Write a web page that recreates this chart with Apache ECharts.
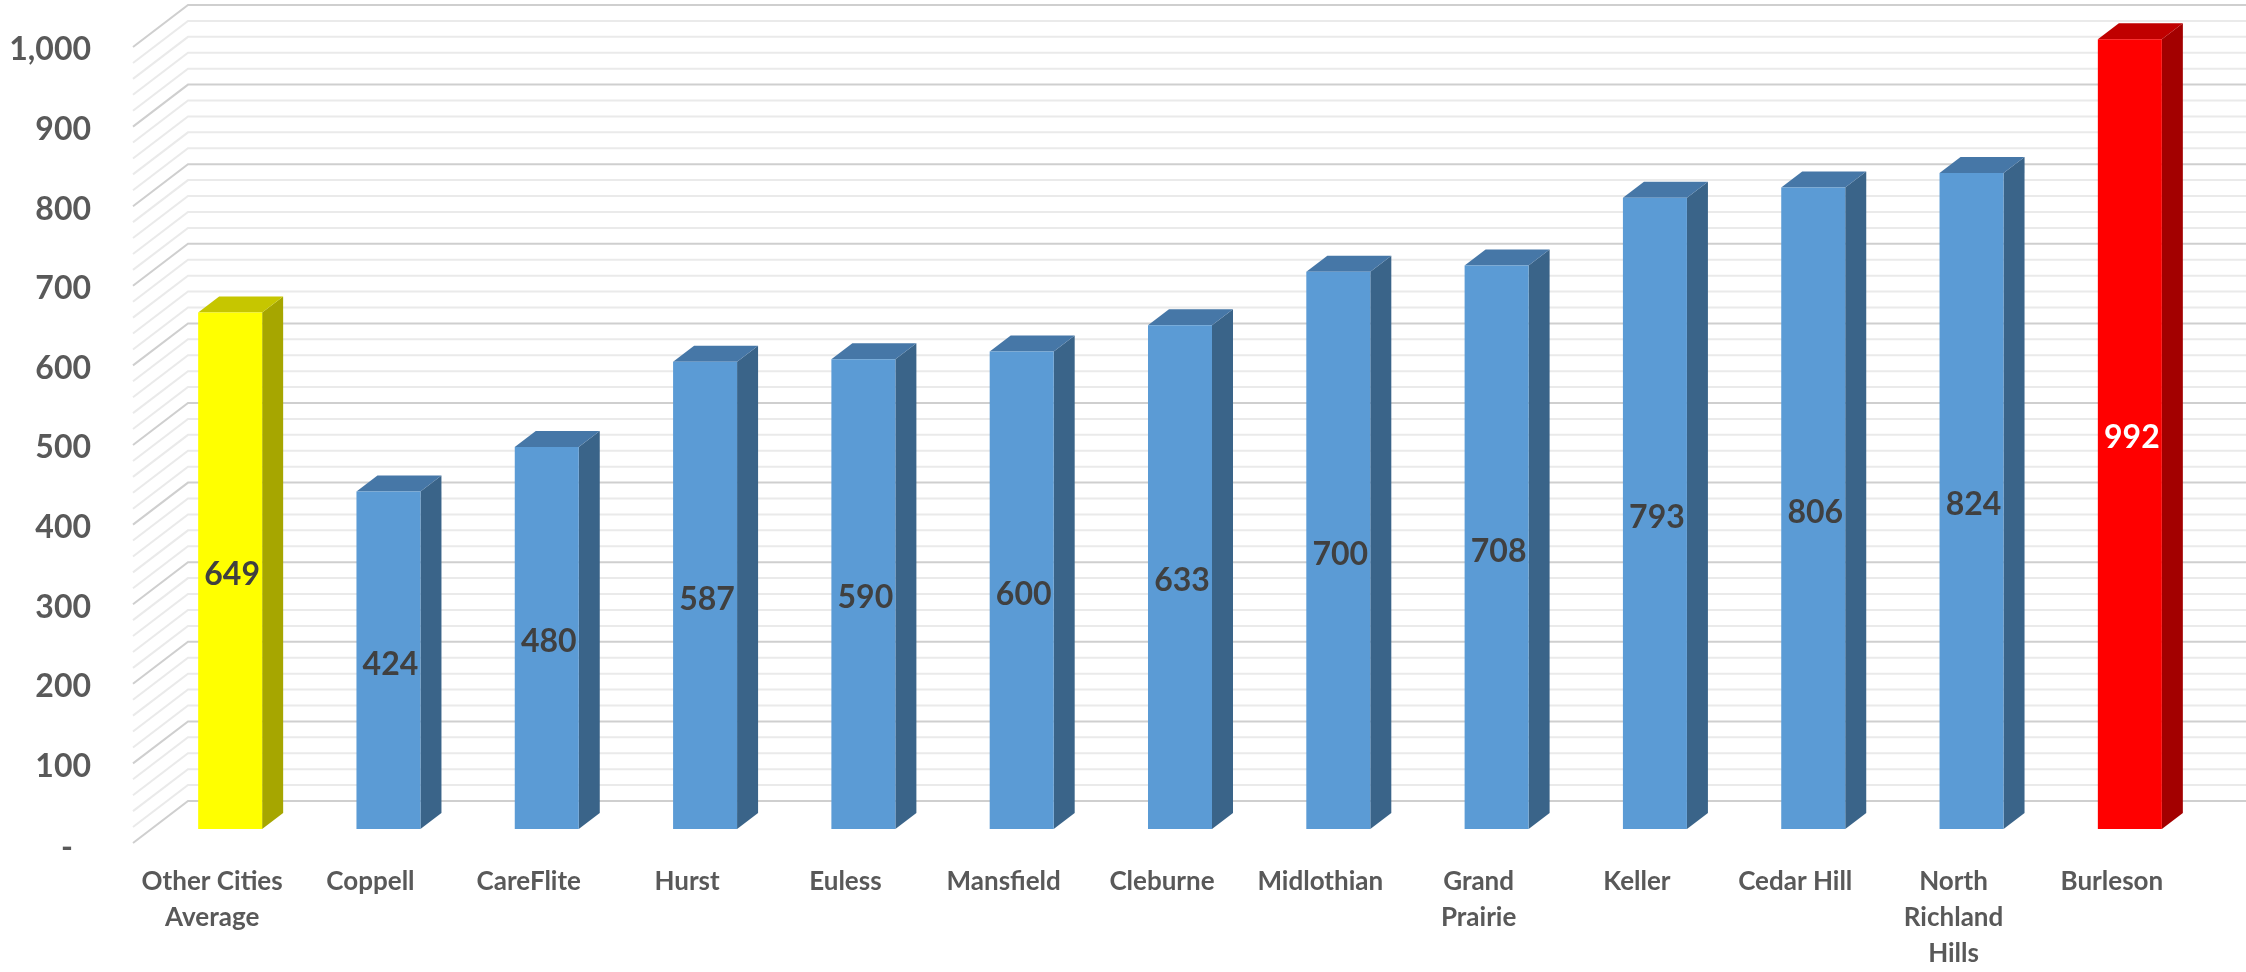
<!DOCTYPE html>
<html>
<head>
<meta charset="utf-8">
<script src="https://cdn.jsdelivr.net/npm/echarts@6/dist/echarts.min.js"></script>
<style>
html,body{margin:0;padding:0;background:#fff;}
#chart{width:2246px;height:972px;}
</style>
</head>
<body>
<div id="chart"></div>
<script>
// ---- data ----
const categories = ['Other Cities\nAverage', 'Coppell', 'CareFlite', 'Hurst', 'Euless', 'Mansfield', 'Cleburne', 'Midlothian', 'Grand\nPrairie', 'Keller', 'Cedar Hill', 'North\nRichland\nHills', 'Burleson'];
const values = [649, 424, 480, 587, 590, 600, 633, 700, 708, 793, 806, 824, 992];
const yTicks = [0, 100, 200, 300, 400, 500, 600, 700, 800, 900, 1000];
const gridValues = [0,20,40,60,80,100,120,140,160,180,200,220,240,260,280,300,320,340,360,380,400,420,440,460,480,500,520,540,560,580,600,620,640,660,680,700,720,740,760,780,800,820,840,860,880,900,920,940,960,980,1000];

// ---- styles ----
const palettes = {
  avg:  {front:'#FFFF00', top:'#C6C600', side:'#A6A600', label:'#404040'},
  city: {front:'#5B9BD5', top:'#4677A7', side:'#3A6489', label:'#404040'},
  home: {front:'#FF0000', top:'#C00000', side:'#A30000', label:'#FFFFFF'}
};
function paletteFor(i){ if(i===0) return palettes.avg; if(i===categories.length-1) return palettes.home; return palettes.city; }

const WALL_DX = 55, WALL_DY = -42;         // depth of the chart walls
const FACE_DX = 18, FACE_DY = -14;         // bar front face inset
const BAR_DX = 21, BAR_DY = -16;           // bar depth
const BAR_W = 64;
const LABEL_SHIFT = 4;

const chart = echarts.init(document.getElementById('chart'), null, {renderer:'canvas'});

const option = {
  backgroundColor:'#ffffff',
  animation:false,
  grid:{left:133, right:55, top:47, bottom:124, containLabel:false},
  xAxis:{
    type:'category', data:categories,
    axisLine:{show:false}, axisTick:{show:false}, splitLine:{show:false},
    axisLabel:{interval:0, margin:21, color:'#595959', fontFamily:'Lato', fontWeight:'bold', fontSize:26, lineHeight:36, align:'center'}
  },
  yAxis:{
    type:'value', min:0, max:1000, interval:100,
    axisLine:{show:false}, axisTick:{show:false}, splitLine:{show:false},
    axisLabel:{
      margin:42, color:'#595959', fontFamily:'Lato', fontWeight:'bold', fontSize:32,
      padding:[6,0,0,0],
      formatter:function(v){ return v===0 ? '{d|-}' : v.toLocaleString('en-US'); },
      rich:{d:{padding:[4,18,0,0], color:'#595959', fontFamily:'Lato', fontWeight:'bold', fontSize:32}}
    }
  },
  series:[
    {
      type:'custom', z:1, silent:true,
      data:gridValues.map(v=>[0,v]),
      renderItem:function(params, api){
        const v = api.value(1);
        const p = api.coord([0, v]);
        const cs = params.coordSys;
        const L = cs.x, R = cs.x + cs.width;
        const major = v % 100 === 0;
        return {
          type:'polyline',
          shape:{points:[[L, p[1]], [L+WALL_DX, p[1]+WALL_DY], [R+WALL_DX, p[1]+WALL_DY]]},
          style:{stroke: major ? '#CFCFCF' : '#EAEAEA', lineWidth: 2, fill:null}
        };
      }
    },
    {
      type:'custom', z:5,
      data:values.map((v,i)=>[i,v]),
      renderItem:function(params, api){
        const i = api.value(0), v = api.value(1);
        const top = api.coord([i, v]);
        const base = api.coord([i, 0]);
        const pal = paletteFor(i);
        const cx = top[0] + FACE_DX;
        const x0 = cx - BAR_W/2, x1 = cx + BAR_W/2;
        const yt = top[1] + FACE_DY, yb = base[1] + FACE_DY;
        return {
          type:'group',
          children:[
            {type:'polygon', shape:{points:[[x1,yt],[x1+BAR_DX,yt+BAR_DY],[x1+BAR_DX,yb+BAR_DY],[x1,yb]]}, style:{fill:pal.side}},
            {type:'polygon', shape:{points:[[x0,yt],[x1,yt],[x1+BAR_DX,yt+BAR_DY],[x0+BAR_DX,yt+BAR_DY]]}, style:{fill:pal.top}},
            {type:'rect', shape:{x:x0, y:yt, width:BAR_W, height:yb-yt}, style:{fill:pal.front}},
            {type:'text', z2:10, style:{text:String(v), x:cx+2, y:(yt+yb)/2+LABEL_SHIFT, align:'center', verticalAlign:'middle',
              fill:pal.label, fontFamily:'Lato', fontWeight:'bold', fontSize:32}}
          ]
        };
      }
    }
  ]
};
chart.setOption(option);
</script>
</body>
</html>
